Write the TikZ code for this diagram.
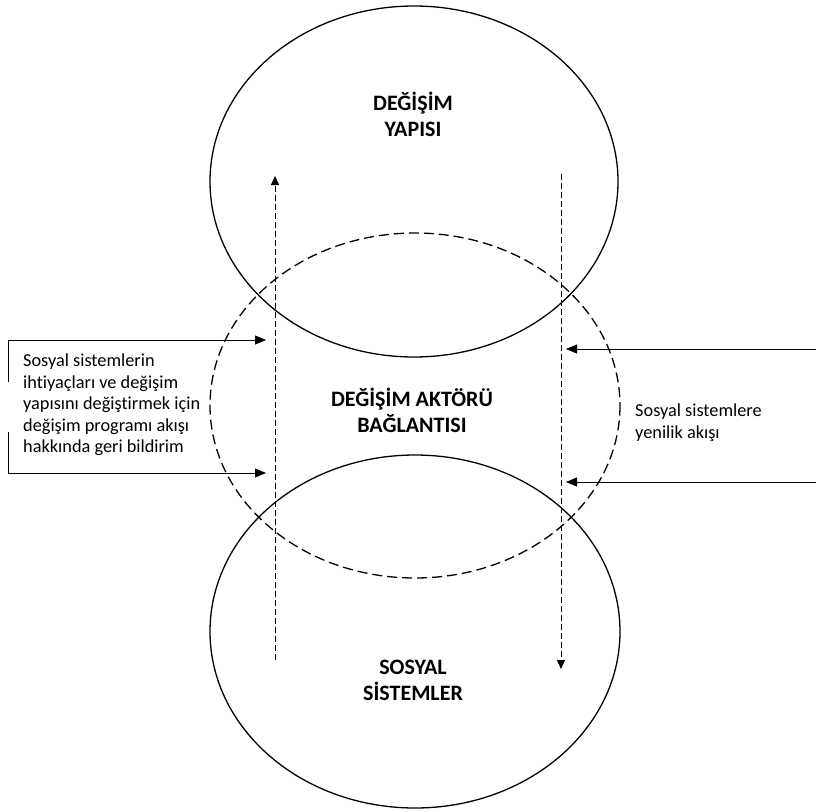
\documentclass[tikz,border=0pt]{standalone}
\usepackage{fontspec}
\setmainfont{Carlito}[Ligatures={NoCommon}]
\usetikzlibrary{arrows.meta,shapes.geometric}
\begin{document}
\begin{tikzpicture}[x=1pt,y=-1pt,
  solidell/.style={draw, line width=1.3pt},
  dashell/.style={draw, line width=1.3pt, dash pattern=on 10pt off 5pt},
  flow/.style={draw, line width=0.8pt, dash pattern=on 6pt off 3pt, -{Triangle[length=9pt,width=8pt]}},
  feed/.style={draw, line width=0.8pt, -{Triangle[length=11pt,width=9pt]}},
  title/.style={font=\bfseries\fontsize{22}{26}\selectfont, align=center, inner sep=0pt},
  small/.style={font=\fontsize{18.3}{21.5}\selectfont, align=left, inner sep=0pt}]
\useasboundingbox (0,0) rectangle (816,811);
% ellipses
\draw[solidell] (414,181.5) ellipse [x radius=204, y radius=175.5];
\draw[solidell] (415,631.5) ellipse [x radius=205, y radius=176.5];
\draw[dashell] (415,405.5) ellipse [x radius=205, y radius=172.5];
% titles
\node[title] (t1) at (413,114) {DEĞİŞİM\\YAPISI};
\node[title] (t2) at (412,410) {DEĞİŞİM AKTÖRÜ\\BAĞLANTISI};
\node[title] (t3) at (413,680) {SOSYAL\\SİSTEMLER};
% vertical flows
\coordinate (lb) at (275,660);
\coordinate (lt) at (275,176);
\coordinate (rt) at (561,174);
\coordinate (rb) at (561,669);
\draw[flow] (lb) -- (lt);
\draw[flow] (rt) -- (rb);
% left feedback bracket
\coordinate (la) at (8,340);
\coordinate (lc) at (8,382);
\coordinate (ld) at (8,432);
\coordinate (le) at (8,473);
\coordinate (lat) at (266,340);
\coordinate (let) at (266,473);
\draw[feed] (lc) -- (la) -- (lat);
\draw[feed] (ld) -- (le) -- (let);
\node[small, anchor=west] (ltext) at (23,405) {Sosyal sistemlerin\\ihtiyaçları ve değişim\\yapısını değiştirmek için\\değişim programı akışı\\hakkında geri bildirim};
% right innovation arrows
\coordinate (ra) at (816,349);
\coordinate (rat) at (566,349);
\coordinate (rc) at (816,482);
\coordinate (rct) at (566,482);
\draw[feed] (ra) -- (rat);
\draw[feed] (rc) -- (rct);
\node[small, anchor=west] (rtext) at (635,422.5) {Sosyal sistemlere\\yenilik akışı};
\end{tikzpicture}
\end{document}
